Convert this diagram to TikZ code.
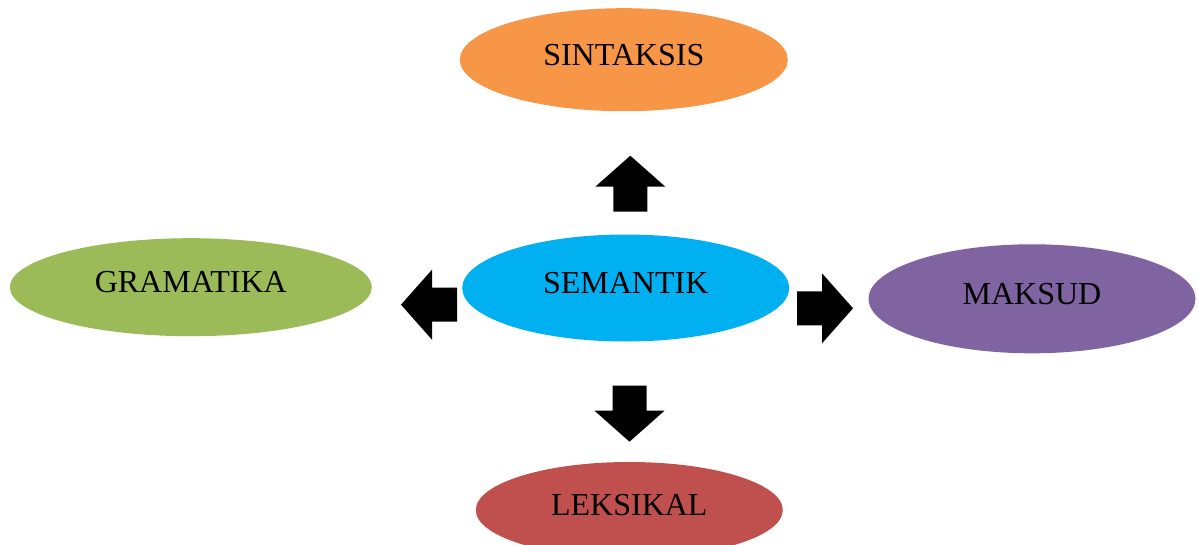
\documentclass[tikz,border=0pt]{standalone}
\usepackage{fontspec}
\setmainfont{Liberation Serif}
\usetikzlibrary{shapes.geometric}

\definecolor{orangeS}{HTML}{F79646}
\definecolor{cyanS}{HTML}{00B0F0}
\definecolor{greenS}{HTML}{9BBB59}
\definecolor{purpleS}{HTML}{8064A2}
\definecolor{redS}{HTML}{C0504D}

\tikzset{
    term/.style={ellipse, inner sep=0pt, text depth=10pt, font=\fontsize{32}{38}\selectfont},
    blockarrow/.pic={
        \fill[black] (0, -17) -- (25, -17) -- (25, -35) -- (56, 0) -- (25, 35) -- (25, 17) -- (0, 17) -- cycle;
    }
}

\begin{document}
\begin{tikzpicture}[x=1pt, y=-1pt]
    \useasboundingbox (0, 0) rectangle (1198, 545);
    \node[term, fill=cyanS, minimum width=327, minimum height=107] (semantik) at (625.7, 288) {SEMANTIK};
    \node[term, fill=orangeS, minimum width=328, minimum height=103] (sintaksis) at (623.8, 59.7) {SINTAKSIS};
    \node[term, fill=greenS, minimum width=362, minimum height=98] (gramatika) at (190.8, 287.2) {GRAMATIKA};
    \node[term, fill=purpleS, minimum width=327, minimum height=109] (maksud) at (1032, 298.8) {MAKSUD};
    \node[term, fill=redS, minimum width=307, minimum height=96] (leksikal) at (629.3, 510) {LEKSIKAL};
    \pic[rotate=90] at (630.3, 211.7) {blockarrow};
    \pic[rotate=-90] at (629.5, 385.7) {blockarrow};
    \pic[rotate=180] at (457, 304.7) {blockarrow};
    \pic at (797, 308.3) {blockarrow};
\end{tikzpicture}
\end{document}
